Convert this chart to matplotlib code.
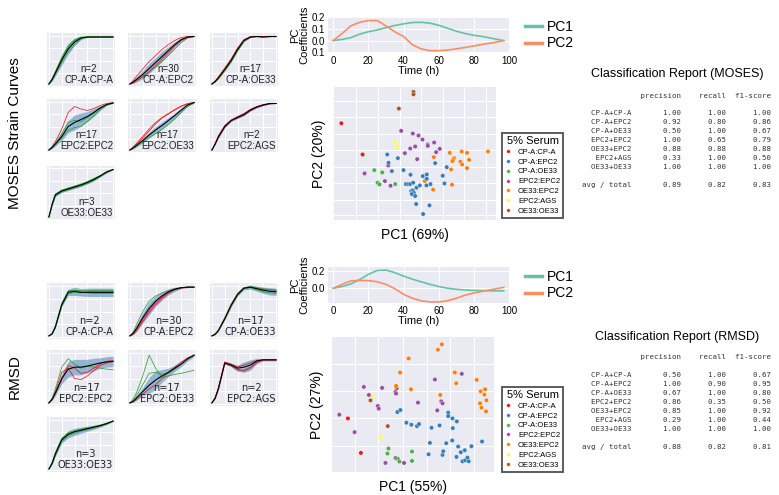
import numpy as np
import matplotlib
matplotlib.use('Agg')
from matplotlib import pyplot as plt
from matplotlib.lines import Line2D

plt.rcParams['font.family'] = ['Liberation Sans', 'DejaVu Sans']

W, H = 779, 495

# ---------------- data ----------------
pair_names = ['CP-A:CP-A', 'CP-A:EPC2', 'CP-A:OE33', 'EPC2:EPC2',
              'OE33:EPC2', 'EPC2:AGS', 'OE33:OE33']
pair_colors = ['#e41a1c', '#377eb8', '#4daf4a', '#984ea3',
               '#ff7f00', '#ffff33', '#a65628']

panel_names = ['CP-A:CP-A', 'CP-A:EPC2', 'CP-A:OE33', 'EPC2:EPC2',
               'EPC2:OE33', 'EPC2:AGS', 'OE33:OE33']
panel_n = [2, 30, 17, 17, 17, 2, 3]

# strain curves, normalised, sampled at these hours
hours = [0, 5, 10, 20, 30, 40, 50, 60, 70, 80, 90, 100]

moses_mean = [
    [0.03, 0.12, 0.25, 0.51, 0.73, 0.87, 0.95, 0.97, 0.97, 0.97, 0.97, 0.97],
    [0.03, 0.07, 0.12, 0.22, 0.34, 0.46, 0.58, 0.70, 0.82, 0.92, 0.97, 0.98],
    [0.03, 0.08, 0.15, 0.32, 0.50, 0.72, 0.90, 0.97, 0.98, 0.97, 0.98, 0.98],
    [0.03, 0.08, 0.15, 0.30, 0.50, 0.58, 0.64, 0.70, 0.78, 0.87, 0.94, 0.97],
    [0.03, 0.07, 0.12, 0.22, 0.33, 0.43, 0.52, 0.62, 0.72, 0.83, 0.93, 0.98],
    [0.03, 0.15, 0.29, 0.50, 0.62, 0.68, 0.74, 0.83, 0.89, 0.93, 0.96, 0.96],
    [0.03, 0.28, 0.47, 0.55, 0.59, 0.63, 0.67, 0.72, 0.78, 0.85, 0.93, 0.98],
]
moses_spread = [
    [0.0, 0.03, 0.06, 0.10, 0.10, 0.07, 0.03, 0.01, 0.0, 0.0, 0.0, 0.0],
    [0.0, 0.03, 0.05, 0.08, 0.10, 0.10, 0.10, 0.08, 0.05, 0.03, 0.01, 0.0],
    [0.0, 0.01, 0.02, 0.03, 0.03, 0.03, 0.02, 0.01, 0.01, 0.01, 0.01, 0.0],
    [0.0, 0.02, 0.04, 0.08, 0.12, 0.15, 0.13, 0.10, 0.08, 0.05, 0.02, 0.01],
    [0.0, 0.02, 0.03, 0.05, 0.06, 0.07, 0.07, 0.06, 0.05, 0.04, 0.02, 0.01],
    [0.0, 0.01, 0.02, 0.02, 0.02, 0.02, 0.02, 0.02, 0.02, 0.01, 0.01, 0.0],
    [0.0, 0.02, 0.03, 0.03, 0.03, 0.03, 0.03, 0.03, 0.03, 0.02, 0.02, 0.01],
]
moses_curve_a = [
    [0.03, 0.14, 0.28, 0.56, 0.80, 0.92, 0.97, 0.97, 0.97, 0.97, 0.97, 0.97],
    [0.03, 0.10, 0.18, 0.33, 0.48, 0.60, 0.72, 0.82, 0.90, 0.96, 0.98, 0.98],
    [0.03, 0.09, 0.17, 0.35, 0.53, 0.75, 0.92, 0.98, 0.98, 0.98, 0.98, 0.98],
    [0.03, 0.10, 0.20, 0.45, 0.78, 0.90, 0.85, 0.82, 0.86, 0.92, 0.96, 0.98],
    [0.03, 0.08, 0.14, 0.27, 0.41, 0.55, 0.67, 0.75, 0.83, 0.90, 0.95, 0.98],
    [0.03, 0.16, 0.31, 0.52, 0.63, 0.70, 0.76, 0.84, 0.90, 0.94, 0.96, 0.96],
    [0.03, 0.30, 0.49, 0.57, 0.61, 0.65, 0.69, 0.74, 0.80, 0.86, 0.94, 0.98],
]
moses_curve_b = [
    [0.03, 0.10, 0.22, 0.46, 0.67, 0.82, 0.93, 0.97, 0.97, 0.97, 0.97, 0.97],
    [0.03, 0.06, 0.10, 0.18, 0.27, 0.37, 0.48, 0.60, 0.73, 0.86, 0.95, 0.98],
    [0.03, 0.07, 0.13, 0.29, 0.47, 0.69, 0.88, 0.96, 0.98, 0.97, 0.98, 0.98],
    [0.03, 0.07, 0.13, 0.27, 0.42, 0.48, 0.50, 0.60, 0.72, 0.84, 0.93, 0.97],
    [0.03, 0.06, 0.10, 0.19, 0.28, 0.36, 0.44, 0.54, 0.65, 0.78, 0.90, 0.97],
    [0.03, 0.14, 0.27, 0.48, 0.61, 0.67, 0.72, 0.81, 0.88, 0.92, 0.95, 0.96],
    [0.03, 0.26, 0.45, 0.53, 0.57, 0.61, 0.65, 0.70, 0.76, 0.84, 0.92, 0.98],
]
moses_curve_c = [
    [0.03, 0.13, 0.26, 0.53, 0.76, 0.90, 0.96, 0.97, 0.97, 0.97, 0.97, 0.97],
    [0.03, 0.05, 0.09, 0.17, 0.28, 0.40, 0.53, 0.66, 0.79, 0.90, 0.96, 0.98],
    [0.03, 0.08, 0.16, 0.33, 0.52, 0.74, 0.91, 0.97, 0.98, 0.98, 0.98, 0.98],
    [0.03, 0.09, 0.17, 0.36, 0.58, 0.62, 0.60, 0.68, 0.77, 0.87, 0.94, 0.97],
    [0.03, 0.09, 0.16, 0.30, 0.45, 0.58, 0.68, 0.76, 0.84, 0.91, 0.96, 0.98],
    [0.03, 0.15, 0.30, 0.50, 0.62, 0.69, 0.75, 0.84, 0.89, 0.93, 0.96, 0.96],
    [0.03, 0.29, 0.48, 0.56, 0.60, 0.64, 0.68, 0.73, 0.79, 0.86, 0.93, 0.98],
]

rmsd_mean = [
    [0.03, 0.07, 0.20, 0.63, 0.87, 0.89, 0.87, 0.87, 0.87, 0.87, 0.87, 0.87],
    [0.03, 0.08, 0.17, 0.38, 0.56, 0.70, 0.80, 0.88, 0.93, 0.96, 0.97, 0.97],
    [0.03, 0.06, 0.13, 0.36, 0.62, 0.83, 0.95, 0.97, 0.94, 0.91, 0.89, 0.88],
    [0.03, 0.10, 0.22, 0.50, 0.68, 0.72, 0.72, 0.74, 0.77, 0.80, 0.82, 0.83],
    [0.03, 0.06, 0.12, 0.25, 0.37, 0.47, 0.55, 0.62, 0.70, 0.78, 0.88, 0.95],
    [0.03, 0.12, 0.30, 0.80, 0.76, 0.70, 0.72, 0.76, 0.84, 0.86, 0.86, 0.86],
    [0.03, 0.14, 0.32, 0.60, 0.71, 0.76, 0.79, 0.82, 0.85, 0.88, 0.92, 0.97],
]
rmsd_spread = [
    [0.0, 0.0, 0.01, 0.03, 0.06, 0.08, 0.07, 0.08, 0.08, 0.08, 0.08, 0.08],
    [0.0, 0.03, 0.06, 0.10, 0.12, 0.10, 0.08, 0.06, 0.04, 0.02, 0.01, 0.0],
    [0.0, 0.0, 0.01, 0.02, 0.03, 0.03, 0.03, 0.04, 0.05, 0.06, 0.07, 0.07],
    [0.0, 0.02, 0.05, 0.10, 0.15, 0.15, 0.15, 0.13, 0.12, 0.10, 0.10, 0.10],
    [0.0, 0.02, 0.04, 0.08, 0.15, 0.18, 0.12, 0.08, 0.06, 0.05, 0.04, 0.03],
    [0.0, 0.01, 0.02, 0.02, 0.03, 0.06, 0.10, 0.10, 0.05, 0.02, 0.02, 0.02],
    [0.0, 0.02, 0.04, 0.06, 0.07, 0.07, 0.06, 0.05, 0.04, 0.03, 0.02, 0.01],
]
rmsd_curve_a = [
    [0.03, 0.08, 0.22, 0.66, 0.90, 0.91, 0.88, 0.86, 0.85, 0.85, 0.85, 0.85],
    [0.03, 0.06, 0.12, 0.30, 0.48, 0.63, 0.75, 0.85, 0.92, 0.96, 0.97, 0.97],
    [0.03, 0.07, 0.14, 0.38, 0.64, 0.85, 0.96, 0.97, 0.95, 0.93, 0.92, 0.91],
    [0.03, 0.10, 0.25, 0.62, 0.70, 0.50, 0.48, 0.55, 0.65, 0.75, 0.80, 0.83],
    [0.03, 0.10, 0.22, 0.55, 0.95, 0.70, 0.52, 0.55, 0.58, 0.60, 0.63, 0.66],
    [0.03, 0.13, 0.32, 0.82, 0.78, 0.72, 0.76, 0.80, 0.85, 0.86, 0.86, 0.86],
    [0.03, 0.16, 0.35, 0.63, 0.74, 0.78, 0.81, 0.84, 0.86, 0.89, 0.93, 0.97],
]
rmsd_curve_b = [
    [0.03, 0.06, 0.18, 0.60, 0.84, 0.87, 0.86, 0.88, 0.89, 0.89, 0.89, 0.89],
    [0.03, 0.10, 0.24, 0.50, 0.70, 0.80, 0.86, 0.90, 0.94, 0.96, 0.97, 0.97],
    [0.03, 0.05, 0.12, 0.34, 0.60, 0.81, 0.94, 0.96, 0.92, 0.88, 0.86, 0.85],
    [0.03, 0.12, 0.30, 0.72, 0.88, 0.78, 0.70, 0.74, 0.72, 0.70, 0.68, 0.67],
    [0.03, 0.05, 0.09, 0.20, 0.30, 0.38, 0.50, 0.62, 0.72, 0.82, 0.90, 0.95],
    [0.03, 0.11, 0.28, 0.78, 0.74, 0.66, 0.66, 0.72, 0.82, 0.86, 0.86, 0.86],
    [0.03, 0.12, 0.29, 0.57, 0.68, 0.73, 0.77, 0.80, 0.83, 0.87, 0.91, 0.97],
]
rmsd_curve_c = [
    [0.03, 0.07, 0.20, 0.63, 0.88, 0.90, 0.90, 0.90, 0.91, 0.91, 0.91, 0.91],
    [0.03, 0.07, 0.14, 0.34, 0.52, 0.67, 0.78, 0.86, 0.92, 0.95, 0.97, 0.97],
    [0.03, 0.06, 0.13, 0.36, 0.63, 0.84, 0.96, 0.98, 0.96, 0.94, 0.92, 0.91],
    [0.03, 0.09, 0.20, 0.48, 0.75, 0.70, 0.60, 0.62, 0.70, 0.78, 0.83, 0.85],
    [0.03, 0.08, 0.16, 0.38, 0.60, 0.62, 0.58, 0.60, 0.68, 0.78, 0.88, 0.95],
    [0.03, 0.12, 0.31, 0.81, 0.77, 0.68, 0.64, 0.70, 0.80, 0.86, 0.86, 0.86],
    [0.03, 0.15, 0.34, 0.62, 0.72, 0.77, 0.80, 0.83, 0.86, 0.89, 0.92, 0.97],
]
moses_line_colors = [('#2ca02c', '#2ca02c', '#2ca02c'), ('#e8191c', '#2ca02c', '#e8191c'),
                     ('#e8191c', '#2ca02c', '#e8191c'), ('#e8191c', '#2ca02c', '#2ca02c'),
                     ('#e8191c', '#2ca02c', '#e8191c'), ('#e8191c', '#8e3b6e', '#e8191c'),
                     ('#2ca02c', '#2ca02c', '#2ca02c')]
rmsd_line_colors = [('#2ca02c', '#2ca02c', '#2ca02c'), ('#e8191c', '#2ca02c', '#e8191c'),
                    ('#e8191c', '#2ca02c', '#2ca02c'), ('#e8191c', '#2ca02c', '#e8191c'),
                    ('#2ca02c', '#e8191c', '#2ca02c'), ('#e8191c', '#8e3b6e', '#e8191c'),
                    ('#2ca02c', '#2ca02c', '#2ca02c')]

# PC coefficients
pc_hours = [0, 5, 10, 15, 20, 25, 30, 35, 40, 45, 50, 55, 60, 65, 70, 75, 80, 85, 90, 97]
moses_pc1 = [0.0, 0.01, 0.025, 0.055, 0.075, 0.09, 0.11, 0.128, 0.142, 0.153, 0.155, 0.148,
             0.13, 0.105, 0.08, 0.06, 0.045, 0.035, 0.02, 0.0]
moses_pc2 = [0.0, 0.06, 0.125, 0.155, 0.17, 0.17, 0.125, 0.075, 0.035, -0.035, -0.07, -0.085,
             -0.085, -0.08, -0.07, -0.058, -0.045, -0.032, -0.02, 0.0]
rmsd_pc1 = [0.0, 0.02, 0.05, 0.10, 0.16, 0.205, 0.21, 0.18, 0.14, 0.105, 0.075, 0.045,
            0.02, 0.0, -0.012, -0.02, -0.025, -0.028, -0.03, -0.03]
rmsd_pc2 = [0.0, 0.045, 0.085, 0.09, 0.088, 0.075, 0.045, -0.005, -0.07, -0.115, -0.145, -0.158,
            -0.158, -0.145, -0.115, -0.08, -0.055, -0.035, -0.015, 0.01]

# PCA scores (arbitrary units, second component increases downward as read)
moses_score1 = [40, 104, 257, 257, 213, 201, 207,
                220, 255, 272, 284, 300, 300, 319, 336, 325, 262, 247, 231, 268, 181, 110, 171, 188,
                139, 163, 149, 155, 202,
                318, 366, 402, 418, 481, 379, 376, 374, 398, 403, 424, 418, 370, 291, 316, 373,
                178, 182, 210, 192, 227, 248, 285, 297, 297, 322, 357, 345, 308, 296, 350, 266,
                276, 234, 241, 247, 256, 250, 255, 258, 252, 262, 265, 305, 286]
moses_score2 = [124, 218, 30, 37, 80, 181, 194,
                147, 155, 161, 173, 188, 192, 182, 201, 211, 194, 200, 214, 232, 251, 275, 298, 312,
                265, 272, 303, 308, 307,
                226, 213, 209, 213, 209, 229, 233, 238, 240, 248, 234, 259, 263, 298, 324, 309,
                218, 243, 229, 268, 265, 279, 283, 278, 291, 244, 256, 282, 307, 311, 305, 318,
                311, 307, 307, 307, 303, 328, 326, 333, 337, 343, 367, 371, 397]
moses_group = [0, 0, 6, 6, 6, 5, 5] + [3] * 17 + [2] * 5 + [4] * 16 + [1] * 29

rmsd_score1 = [60, 99, 128, 180, 207, 134, 158,
               34, 80, 108, 123, 150, 153, 163, 203, 205, 271, 322, 341, 345, 329, 403, 173, 205, 210, 229,
               182, 179, 203, 215, 253, 253,
               343, 331, 243, 217, 205, 250, 382, 386, 448, 338, 460, 473, 471, 477, 458, 462, 476,
               209, 218, 236, 251, 268, 274, 312, 336, 362, 362, 375, 388, 376, 307, 356, 374, 392,
               412, 400, 432, 464, 303, 345, 347, 387, 405, 413, 420, 424]
rmsd_score2 = [265, 368, 211, 288, 175, 198, 323,
               254, 306, 171, 195, 228, 236, 174, 186, 191, 218, 149, 214, 220, 241, 132, 398, 384, 386, 398,
               355, 370, 383, 394, 364, 392,
               44, 60, 86, 128, 168, 178, 128, 160, 150, 195, 184, 178, 194, 211, 220, 233, 244,
               246, 240, 278, 284, 288, 282, 293, 286, 248, 258, 265, 274, 294, 338, 339, 331, 349,
               360, 366, 348, 334, 372, 374, 363, 380, 393, 390, 382, 393]
rmsd_group = [0, 0, 6, 6, 6, 5, 5] + [3] * 19 + [2] * 6 + [4] * 17 + [1] * 29

# classification reports
report_labels = ['CP-A+CP-A', 'CP-A+EPC2', 'CP-A+OE33', 'EPC2+EPC2',
                 'OE33+EPC2', 'EPC2+AGS', 'OE33+OE33']
moses_precision = [1.00, 0.92, 0.50, 1.00, 0.88, 0.33, 1.00]
moses_recall = [1.00, 0.80, 1.00, 0.65, 0.88, 1.00, 1.00]
moses_f1 = [1.00, 0.86, 0.67, 0.79, 0.88, 0.50, 1.00]
moses_avg = [0.89, 0.82, 0.83]
rmsd_precision = [0.50, 1.00, 0.67, 0.86, 0.85, 0.29, 1.00]
rmsd_recall = [1.00, 0.90, 1.00, 0.35, 1.00, 1.00, 1.00]
rmsd_f1 = [0.67, 0.95, 0.80, 0.50, 0.92, 0.44, 1.00]
rmsd_avg = [0.88, 0.82, 0.81]

# ---------------- figure ----------------
fig = plt.figure(figsize=(W / 100, H / 100), dpi=100)
fig.patch.set_facecolor('white')


def px_axes(x0, y0, x1, y1):
    return fig.add_axes([x0 / W, 1 - y1 / H, (x1 - x0) / W, (y1 - y0) / H])


def sns_look(ax):
    ax.set_facecolor('#EAEAF2')
    for s in ax.spines.values():
        s.set_visible(False)
    ax.grid(True, color='white', lw=0.7)
    ax.set_axisbelow(True)
    ax.tick_params(length=0)


def strain_panel(ax, mean, spread, curves, cols, n, name, font):
    mean = np.array(mean)
    spread = np.array(spread)
    ax.fill_between(hours, mean - spread, mean + spread, color='#4a86b8', alpha=0.55, lw=0)
    for c, col in zip(curves, cols):
        ax.plot(hours, c, color=col, lw=0.6, alpha=0.9)
    ax.plot(hours, mean, color='black', lw=0.8)
    sns_look(ax)
    ax.set_xlim(-3, 103)
    ax.set_ylim(-0.03, 1.05)
    ax.set_xticks([0, 20, 40, 60, 80, 100])
    ax.set_yticks([0, 0.25, 0.5, 0.75, 1.0])
    ax.tick_params(labelbottom=False, labelleft=False)
    ax.text(0.97, 0.03, 'n=%d\n%s' % (n, name), transform=ax.transAxes, ha='right',
            va='bottom', ma='center', fontsize=7, family=font, color='#222222')


def pc_panel(ax, pc1, pc2, ylim, yticks, ylabels):
    ax.plot(pc_hours, pc1, color='#66c2a5', lw=1.2, label='PC1')
    ax.plot(pc_hours, pc2, color='#fc8d62', lw=1.2, label='PC2')
    sns_look(ax)
    ax.set_xlim(-3, 100)
    ax.set_ylim(*ylim)
    ax.set_xticks([0, 20, 40, 60, 80, 100])
    ax.set_yticks(yticks)
    ax.set_yticklabels(ylabels)
    ax.tick_params(labelsize=7, pad=2)
    ax.set_xlabel('Time (h)', fontsize=8, labelpad=0)
    ax.set_ylabel('PC\nCoefficients', fontsize=8, labelpad=2, linespacing=0.9)
    leg = ax.legend(loc='center left', bbox_to_anchor=(1.02, 0.5), frameon=False,
                    fontsize=10, handlelength=1.2, labelspacing=0.2, handletextpad=0.4)
    for h in leg.legend_handles:
        h.set_linewidth(2.5)


def score_panel(ax, s1, s2, grp, xlim, ylim, xt, yt, xl, yl, anchor):
    cols = [pair_colors[g] for g in grp]
    ax.scatter(s1, s2, c=cols, s=10, edgecolors='white', linewidths=0.25, zorder=3)
    sns_look(ax)
    ax.set_xlim(*xlim)
    ax.set_ylim(*ylim)
    ax.set_xticks(xt)
    ax.set_yticks(yt)
    ax.tick_params(labelbottom=False, labelleft=False)
    ax.set_xlabel(xl, fontsize=10, labelpad=6)
    ax.set_ylabel(yl, fontsize=10, labelpad=6)
    handles = [Line2D([], [], ls='none', marker='o', ms=2.6, mfc=c, mec='white', mew=0.2)
               for c in pair_colors]
    leg = ax.legend(handles, pair_names, title='5% Serum', loc='upper left',
                    bbox_to_anchor=anchor, borderaxespad=0, fontsize=5.5, title_fontsize=8,
                    frameon=True, fancybox=False, handlelength=0.8, handletextpad=0.9,
                    labelspacing=0.32, borderpad=0.4)
    leg.get_frame().set_edgecolor('#333333')
    leg.get_frame().set_linewidth(1.4)


def report(title, y_title, y_head, y_rows, y_avg, prec, rec, f1, avg):
    fig.text(677 / W, 1 - y_title / H, title, ha='center', va='center', fontsize=9)
    mono = dict(family='DejaVu Sans Mono', fontsize=5.3, color='#333333', va='center', ha='left')
    x0 = 582 / W
    fig.text(x0, 1 - y_head / H, '%11s%11s%10s%10s' % ('', 'precision', 'recall', 'f1-score'), **mono)
    for i, lab in enumerate(report_labels):
        line = '%11s%11.2f%10.2f%10.2f' % (lab, prec[i], rec[i], f1[i])
        fig.text(x0, 1 - (y_rows + 9 * i) / H, line, **mono)
    fig.text(x0, 1 - y_avg / H, '%11s%11.2f%10.2f%10.2f' % ('avg / total', avg[0], avg[1], avg[2]), **mono)


# strain-curve grids
col_x = [(47, 115), (128, 196), (210, 278)]
moses_rows = [(33, 87), (99, 153), (166, 220)]
rmsd_rows = [(283, 339), (350, 406), (417, 472)]
for k in range(7):
    cx = col_x[k % 3]
    ry = moses_rows[k // 3]
    ax = px_axes(cx[0], ry[0], cx[1], ry[1])
    strain_panel(ax, moses_mean[k], moses_spread[k],
                 [moses_curve_a[k], moses_curve_b[k], moses_curve_c[k]],
                 moses_line_colors[k], panel_n[k], panel_names[k], 'Liberation Sans')
    ry = rmsd_rows[k // 3]
    ax = px_axes(cx[0], ry[0], cx[1], ry[1])
    strain_panel(ax, rmsd_mean[k], rmsd_spread[k],
                 [rmsd_curve_a[k], rmsd_curve_b[k], rmsd_curve_c[k]],
                 rmsd_line_colors[k], panel_n[k], panel_names[k], 'DejaVu Sans')

fig.text(15 / W, 1 - 133 / H, 'MOSES Strain Curves', rotation=90, ha='center', va='center', fontsize=11)
fig.text(15 / W, 1 - 377 / H, 'RMSD', rotation=90, ha='center', va='center', fontsize=11)

# PC coefficient plots
ax = px_axes(328, 17, 509, 53)
pc_panel(ax, moses_pc1, moses_pc2, (-0.105, 0.2), [-0.1, 0.0, 0.1, 0.2], ['0.1', '0.0', '0.1', '0.2'])
ax = px_axes(328, 267, 509, 303)
pc_panel(ax, rmsd_pc1, rmsd_pc2, (-0.17, 0.245), [0.0, 0.2], ['0.0', '0.2'])

# PCA score plots
ax = px_axes(334, 87, 496, 220)
score_panel(ax, moses_score1, moses_score2, moses_group, (18, 505), (415, 15),
            [85, 150, 215, 280, 345, 410, 475], [58, 105, 155, 205, 255, 305, 355, 400],
            'PC1 (69%)', 'PC2 (20%)', (1.037, 0.654))
ax = px_axes(332, 337, 494, 472)
score_panel(ax, rmsd_score1, rmsd_score2, rmsd_group, (12, 500), (425, 22),
            [80, 152, 225, 297, 368, 440], [102, 183, 265, 346],
            'PC1 (55%)', 'PC2 (27%)', (1.049, 0.63))

# classification reports
report('Classification Report (MOSES)', 74, 96, 113, 185,
       moses_precision, moses_recall, moses_f1, moses_avg)
report('Classification Report (RMSD)', 337, 357, 375, 447,
       rmsd_precision, rmsd_recall, rmsd_f1, rmsd_avg)

fig.savefig('out.png', dpi=100)
